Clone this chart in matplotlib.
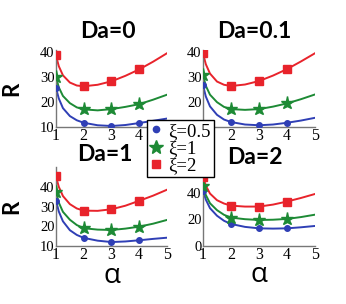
import matplotlib
matplotlib.use("Agg")
import matplotlib.pyplot as plt
from matplotlib.lines import Line2D

alpha = [1, 1.1, 1.25, 1.5, 1.75, 2, 2.5, 3, 3.5, 4, 4.5, 5]
alpha_pts = [1, 2, 3, 4]

titles = ["Da=0", "Da=0.1", "Da=1", "Da=2"]
labels = ["\u03be=0.5", "\u03be=1", "\u03be=2"]

# curves (xi = 0.5, 1, 2) per panel
curve_da0 = [
    [25.7, 21.5, 17.6, 14.4, 12.7, 11.7, 10.7, 10.4, 10.8, 11.6, 12.5, 13.4],
    [30.1, 26.0, 22.5, 19.6, 17.9, 17.1, 16.7, 17.2, 18.1, 19.2, 21.0, 23.0],
    [38.8, 34.5, 30.8, 27.9, 26.7, 26.4, 27.0, 28.4, 30.6, 33.2, 36.3, 39.7],
]
curve_da01 = [
    [26.8, 22.3, 18.3, 14.9, 13.0, 12.0, 11.0, 10.7, 11.0, 11.7, 12.6, 13.7],
    [30.8, 26.6, 23.0, 20.0, 18.1, 17.2, 16.9, 17.2, 18.2, 19.5, 21.2, 23.1],
    [39.7, 35.3, 31.5, 28.3, 27.0, 26.5, 27.1, 28.5, 30.7, 33.3, 36.4, 39.7],
]
curve_da1 = [
    [33.0, 27.5, 22.5, 18.0, 15.6, 14.1, 12.7, 12.0, 12.3, 12.9, 13.6, 14.2],
    [37.3, 32.0, 27.3, 23.3, 20.6, 19.0, 18.3, 18.1, 18.8, 19.8, 21.3, 23.2],
    [45.2, 40.0, 35.3, 31.2, 29.0, 27.9, 27.8, 28.6, 30.4, 32.9, 35.5, 38.5],
]
curve_da2 = [
    [41.8, 35.0, 28.5, 22.8, 19.0, 16.6, 14.4, 13.3, 13.1, 13.3, 14.1, 15.1],
    [45.3, 38.5, 32.2, 27.0, 23.5, 21.4, 20.2, 19.6, 19.8, 20.4, 21.8, 23.6],
    [52.3, 45.5, 39.5, 34.5, 32.0, 30.4, 29.7, 29.7, 31.2, 33.5, 36.2, 39.2],
]
curves = [curve_da0, curve_da01, curve_da1, curve_da2]

# markers at alpha = 1..4
pts_da0 = [[25.7, 11.7, 10.4, 11.6], [30.1, 17.1, 17.2, 19.2], [38.8, 26.4, 28.4, 33.2]]
pts_da01 = [[26.8, 12.0, 10.7, 11.7], [30.8, 17.2, 17.2, 19.5], [39.7, 26.5, 28.5, 33.3]]
pts_da1 = [[33.0, 14.1, 12.0, 12.9], [37.3, 19.0, 18.1, 19.8], [45.2, 27.9, 28.6, 32.9]]
pts_da2 = [[41.8, 16.6, 13.3, 13.3], [45.3, 21.4, 19.6, 20.4], [52.3, 30.4, 29.7, 33.5]]
points = [pts_da0, pts_da01, pts_da1, pts_da2]

yticks = [[10, 20, 30, 40], [10, 20, 30, 40], [10, 20, 30, 40], [0, 20, 40]]
ylims = [(10, 41), (10, 41), (10, 50), (0, 55)]

colors = ["#2f3fb5", "#1d8a35", "#e8232b"]
markers = ["o", "*", "s"]
msizes = [4, 9.5, 5.5]

W, H = 346, 304
# axes boxes in pixels: left, right, bottom, top
boxes = [(56, 167, 127, 50), (203, 315, 127, 50), (56, 167, 246, 167), (203, 315, 246, 173)]
title_pos = [(0.47, 32), (0.455, 32), (0.44, 155), (0.46, 157)]

serif = ["Liberation Serif", "DejaVu Serif"]
sans = ["Lato", "DejaVu Sans"]

fig = plt.figure(figsize=(W / 100, H / 100), dpi=100)

for i in range(4):
    l, r, b, t = boxes[i]
    ax = fig.add_axes([l / W, 1 - b / H, (r - l) / W, (b - t) / H])
    for k in range(3):
        ax.plot(alpha, curves[i][k], color=colors[k], lw=1.4, zorder=2)
        ax.plot(alpha_pts, points[i][k], ls="none", marker=markers[k],
                ms=msizes[k], color=colors[k], zorder=3)
    ax.set_xlim(1, 5)
    ax.set_ylim(*ylims[i])
    ax.set_xticks([1, 2, 3, 4, 5])
    ax.set_yticks(yticks[i])
    for s in ["top", "right"]:
        ax.spines[s].set_visible(False)
    for s in ["left", "bottom"]:
        ax.spines[s].set_color("#777777")
        ax.spines[s].set_linewidth(1.0)
    ax.tick_params(length=0, pad=1)
    for lab in ax.get_xticklabels():
        lab.set_fontfamily(serif)
        lab.set_fontsize(11.5)
    for lab in ax.get_yticklabels():
        lab.set_fontfamily(serif)
        lab.set_fontsize(10.5)
    tx, ty = title_pos[i]
    fig.text((l + tx * (r - l)) / W, 1 - ty / H, titles[i], ha="center", va="center",
             fontsize=16.5, fontweight="bold", family=sans)
    if i in (0, 2):
        ax.set_ylabel("R", fontsize=16, fontweight="bold", family=sans)
        ax.yaxis.set_label_coords(-0.3, 0.5)
    if i in (2, 3):
        ax.set_xlabel("\u03b1", fontsize=20, family=["Open Sans", "DejaVu Sans"])
        ax.xaxis.set_label_coords(0.5, -0.2)

handles = [Line2D([], [], ls="none", marker=markers[k], ms=msizes[k] + 0.5, color=colors[k])
           for k in range(3)]
leg = fig.legend(handles, labels, loc="upper left", bbox_to_anchor=(147 / W, 1 - 120 / H),
                 prop={"family": serif, "size": 13.5}, frameon=True, fancybox=False,
                 edgecolor="black", framealpha=1, borderpad=0.15, labelspacing=0.0,
                 handlelength=0.7, handletextpad=0.3, borderaxespad=0)
leg.get_frame().set_linewidth(1.0)
leg.set_zorder(10)

fig.savefig("out.png", dpi=100)
